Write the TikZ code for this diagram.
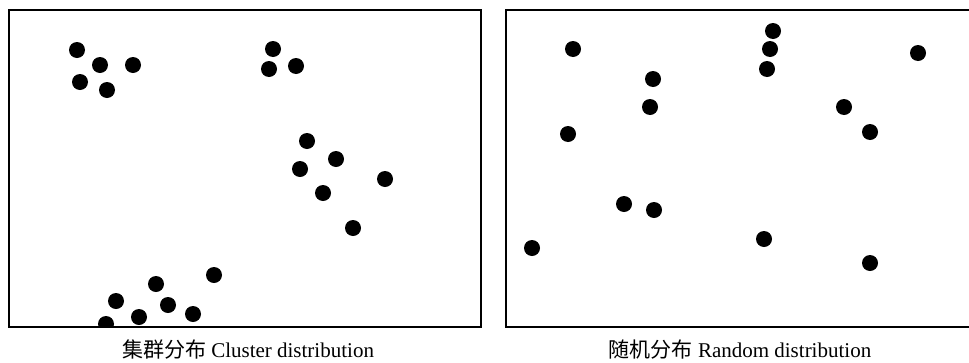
\documentclass[tikz,border=0pt]{standalone}
\usepackage{fontspec}
\setmainfont{Liberation Serif}
\newfontfamily\cjk{Noto Sans CJK SC}
\begin{document}
\begin{tikzpicture}[x=1pt,y=-1pt,
  dot/.style={circle,fill=black,inner sep=0pt,minimum size=16pt},
  frame/.style={draw=black,line width=1.8pt},
  captext/.style={font=\fontsize{21}{24}\selectfont,inner sep=0pt,anchor=base}]
\useasboundingbox (0,0) rectangle (969,362);
\begin{scope}
\clip (9,10) rectangle (481,327);
\foreach \n/\x/\y in {a1/77/50,a2/100/65,a3/133/65,a4/80/82,a5/107/90,
  b1/273/49,b2/269/69,b3/296/66,
  c1/307/141,c2/336/159,c3/300/169,c4/385/179,c5/323/193,c6/353/228,
  d1/214/275,d2/156/284,d3/116/301,d4/168/305,d5/139/317,d6/193/314,d7/106/324}
  \node[dot] (\n) at (\x,\y) {};
\end{scope}
\draw[frame] (9,10) rectangle (481,327);
\foreach \n/\x/\y in {r1/573/49,r2/653/79,r3/650/107,r4/568/134,r5/624/204,
  r6/654/210,r7/532/248,r8/773/31,r9/770/49,r10/767/69,r11/918/53,
  r12/844/107,r13/870/132,r14/764/239,r15/870/263}
  \node[dot] (\n) at (\x,\y) {};
\draw[frame] (975,10) -- (506,10) -- (506,327) -- (975,327);
\node[captext] (capL) at (248,357) {{\cjk 集群分布} Cluster distribution};
\node[captext] (capR) at (740,357) {{\cjk 随机分布} Random distribution};
\end{tikzpicture}
\end{document}
